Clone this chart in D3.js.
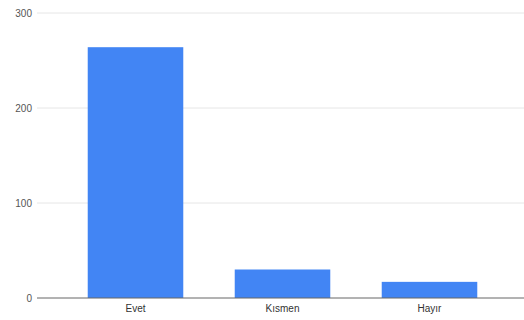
<!DOCTYPE html>
<html><head><meta charset="utf-8">
<script src="https://cdn.jsdelivr.net/npm/d3@7"></script>
<style>body{margin:0;background:#fff}svg{display:block}</style>
</head><body>
<script>
const categories = ["Evet", "Kısmen", "Hayır"];
const values = [264, 30, 17];
const yTicks = [0, 100, 200, 300];

const W = 524, H = 320;
const svg = d3.select("body").append("svg").attr("width", W).attr("height", H);

const y = d3.scaleLinear().domain([0, 300]).range([298, 13]);
const x = d3.scaleBand().domain(categories).range([62, 503]).paddingInner(0.35).paddingOuter(0.175);

svg.append("g").selectAll("line").data(yTicks.filter(d => d !== 0)).join("line")
  .attr("x1", 37).attr("x2", W).attr("y1", d => y(d)).attr("y2", d => y(d))
  .attr("stroke", "#e6e6e6").attr("stroke-width", 1);

svg.append("g").selectAll("text").data(yTicks).join("text")
  .attr("x", 32).attr("y", d => y(d)).attr("dy", "0.35em")
  .attr("text-anchor", "end").attr("font-family", "Arial, 'Liberation Sans', sans-serif")
  .attr("font-size", 10).attr("fill", "#555").text(d => d);

svg.append("g").selectAll("rect").data(values).join("rect")
  .attr("x", (d, i) => x(categories[i])).attr("width", x.bandwidth())
  .attr("y", d => y(d)).attr("height", d => y(0) - y(d))
  .attr("fill", "#4285f4");

svg.append("line").attr("x1", 37).attr("x2", W).attr("y1", y(0)).attr("y2", y(0))
  .attr("stroke", "#666").attr("stroke-width", 1);

svg.append("g").selectAll("text").data(categories).join("text")
  .attr("x", d => x(d) + x.bandwidth() / 2).attr("y", 308).attr("dy", "0.35em")
  .attr("text-anchor", "middle").attr("font-family", "Arial, 'Liberation Sans', sans-serif")
  .attr("font-size", 10).attr("fill", "#333").text(d => d);
</script>
</body></html>
